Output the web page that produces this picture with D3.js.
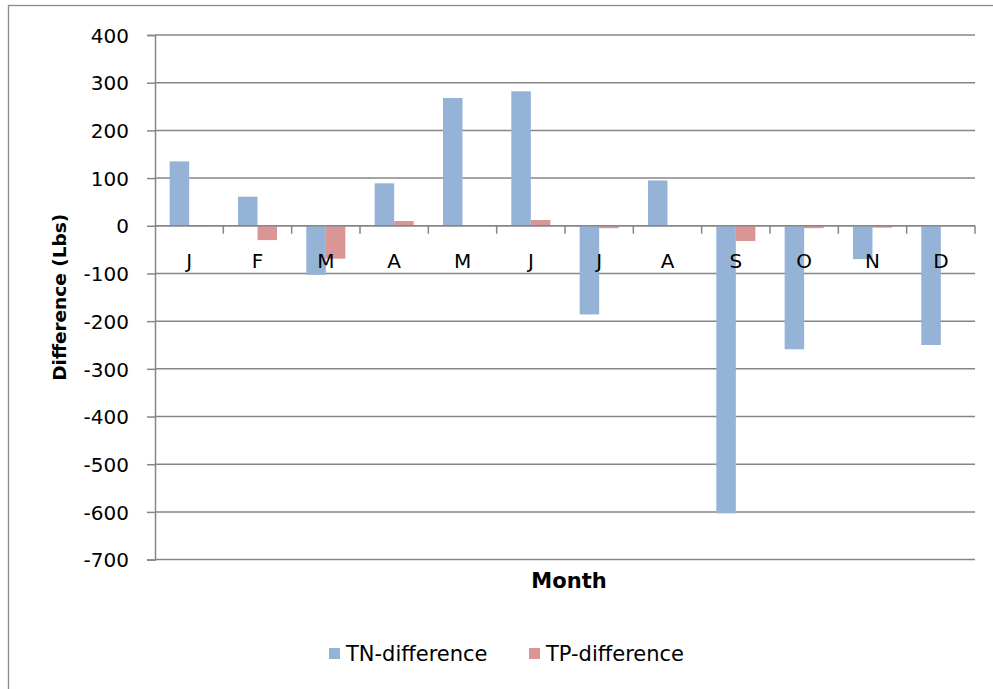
<!DOCTYPE html>
<html>
<head>
<meta charset="utf-8">
<script src="https://cdn.jsdelivr.net/npm/d3@7"></script>
<style>
  body { margin: 0; background: #fff; }
  text { font-family: "DejaVu Sans", "Open Sans", sans-serif; fill: #000; }
</style>
</head>
<body>
<div id="chart"></div>
<script>
const months = ["J", "F", "M", "A", "M", "J", "J", "A", "S", "O", "N", "D"];
const tnDiff = [135, 61, -103, 89, 268, 282, -186, 95, -603, -259, -70, -250];
const tpDiff = [-1, -30, -69, 10, 1, 12, -5, 0, -32, -5, -4, 0];
const yTicks = [400, 300, 200, 100, 0, -100, -200, -300, -400, -500, -600, -700];
const seriesNames = ["TN-difference", "TP-difference"];
const seriesColors = ["#95b3d7", "#d99694"];

const WIDTH = 993;
const HEIGHT = 689;
const MARGIN = { TOP: 35, RIGHT: 18, BOTTOM: 130, LEFT: 155 };
const plotW = WIDTH - MARGIN.LEFT - MARGIN.RIGHT;
const plotH = 559.6 - MARGIN.TOP;
const FONT = '"DejaVu Sans", sans-serif';

const svg = d3
  .select("#chart")
  .append("svg")
  .attr("width", WIDTH)
  .attr("height", HEIGHT);

// chart border (only top and left edges show)
svg
  .append("rect")
  .attr("x", 8.5)
  .attr("y", 5.5)
  .attr("width", WIDTH + 20)
  .attr("height", HEIGHT + 20)
  .style("fill", "none")
  .style("stroke", "#8c8c8c")
  .style("stroke-width", "1.3px");

const g = svg
  .append("g")
  .attr("transform", `translate(${MARGIN.LEFT}, ${MARGIN.TOP})`);

const y = d3.scaleLinear().domain([-700, 400]).range([plotH, 0]);

const x = d3
  .scaleBand()
  .domain(d3.range(months.length))
  .range([0, plotW]);

// bars take 2 of 3.5 parts of each category (gap 150%)
const barW = x.bandwidth() / 3.5;

// GRIDLINES
g.append("g")
  .selectAll("line")
  .data(yTicks)
  .enter()
  .append("line")
  .attr("x1", 0)
  .attr("x2", plotW)
  .attr("y1", (d) => y(d))
  .attr("y2", (d) => y(d))
  .style("stroke", "#868686")
  .style("stroke-width", "1.5px");

// Y AXIS
g.append("g")
  .attr("class", "yAxis")
  .call(
    d3.axisLeft(y)
      .tickValues(yTicks)
      .tickSize(8)
      .tickPadding(18)
      .tickFormat((d) => String(d))
  )
  .call((a) => {
    a.select(".domain").style("stroke", "#868686").style("stroke-width", "1.5px");
    a.selectAll(".tick line").style("stroke", "#868686").style("stroke-width", "1.5px");
    a.selectAll(".tick text")
      .style("font-size", "20px")
      .style("font-family", FONT)
      .attr("dy", "0.36em");
  });

// BARS
const series = [tnDiff, tpDiff];
series.forEach((vals, s) => {
  g.append("g")
    .selectAll("rect")
    .data(vals)
    .enter()
    .append("rect")
    .attr("x", (d, i) => x(i) + 0.75 * barW + s * barW)
    .attr("width", barW)
    .attr("y", (d) => y(Math.max(0, d)))
    .attr("height", (d) => Math.abs(y(d) - y(0)))
    .style("fill", seriesColors[s]);
});

// X AXIS (zero line with ticks at category boundaries)
g.append("line")
  .attr("x1", 0)
  .attr("x2", plotW)
  .attr("y1", y(0))
  .attr("y2", y(0))
  .style("stroke", "#868686")
  .style("stroke-width", "1.5px");

g.append("g")
  .selectAll("line")
  .data(d3.range(1, months.length + 1))
  .enter()
  .append("line")
  .attr("x1", (d) => (d < months.length ? x(d) : plotW))
  .attr("x2", (d) => (d < months.length ? x(d) : plotW))
  .attr("y1", y(0))
  .attr("y2", y(0) + 8)
  .style("stroke", "#868686")
  .style("stroke-width", "1.5px");

g.append("g")
  .attr("class", "xAxis")
  .attr("transform", `translate(0, ${y(0)})`)
  .call(d3.axisBottom(x).tickSize(0).tickFormat((i) => months[i]))
  .call((a) => {
    a.select(".domain").remove();
    a.selectAll(".tick text")
      .attr("y", 42)
      .attr("dy", 0)
      .style("font-size", "20px")
      .style("font-family", FONT);
  });

// AXIS TITLES
svg
  .append("text")
  .attr("transform", `translate(66, ${MARGIN.TOP + plotH / 2}) rotate(-90)`)
  .style("text-anchor", "middle")
  .style("font-size", "18.5px")
  .style("font-weight", "bold")
  .text("Difference (Lbs)");

svg
  .append("text")
  .attr("x", 569)
  .attr("y", 588)
  .style("text-anchor", "middle")
  .style("font-size", "21px")
  .style("font-weight", "bold")
  .text("Month");

// LEGEND
const legendX = [329, 529];
const legend = svg
  .selectAll(".legend")
  .data(seriesNames)
  .enter()
  .append("g")
  .attr("class", "legend")
  .attr("transform", (d, i) => `translate(${legendX[i]}, 648)`);

legend
  .append("rect")
  .attr("width", 11)
  .attr("height", 11)
  .style("fill", (d, i) => seriesColors[i]);

legend
  .append("text")
  .attr("x", 17)
  .attr("y", 13)
  .style("font-size", "21px")
  .text((d) => d);
</script>
</body>
</html>
